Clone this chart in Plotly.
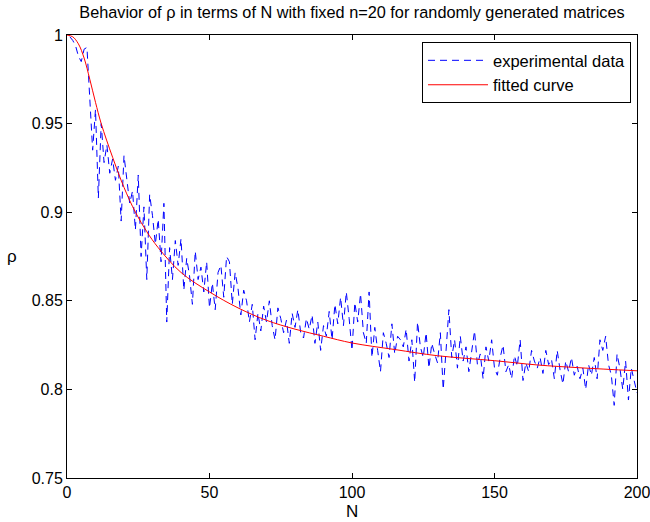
import plotly.graph_objects as go

# ---- data ----
N_exp = list(range(1, 201))
rho_exp = [
    0.999, 0.997, 0.994, 0.988, 0.985, 0.992, 0.993, 0.962, 0.935, 0.958,
    0.908, 0.950, 0.928, 0.938, 0.922, 0.930, 0.918, 0.926, 0.895, 0.932,
    0.920, 0.905, 0.912, 0.890, 0.921, 0.875, 0.903, 0.862, 0.910, 0.898,
    0.882, 0.896, 0.872, 0.905, 0.838, 0.880, 0.862, 0.884, 0.870, 0.885,
    0.856, 0.874, 0.864, 0.848, 0.878, 0.862, 0.869, 0.855, 0.872, 0.846,
    0.860, 0.845, 0.866, 0.870, 0.852, 0.875, 0.872, 0.848, 0.866, 0.857,
    0.842, 0.856, 0.850, 0.838, 0.848, 0.828, 0.843, 0.833, 0.847, 0.838,
    0.850, 0.836, 0.828, 0.846, 0.840, 0.832, 0.839, 0.826, 0.843, 0.835,
    0.845, 0.832, 0.829, 0.840, 0.834, 0.842, 0.826, 0.838, 0.822, 0.836,
    0.830, 0.844, 0.828, 0.848, 0.837, 0.852, 0.836, 0.855, 0.840, 0.822,
    0.849, 0.838, 0.854, 0.832, 0.826, 0.855, 0.818, 0.835, 0.822, 0.810,
    0.832, 0.826, 0.818, 0.837, 0.820, 0.830, 0.828, 0.824, 0.834, 0.816,
    0.828, 0.804, 0.838, 0.824, 0.818, 0.832, 0.812, 0.826, 0.820, 0.815,
    0.832, 0.800, 0.822, 0.845, 0.818, 0.828, 0.812, 0.830, 0.816, 0.824,
    0.810, 0.822, 0.833, 0.814, 0.820, 0.806, 0.824, 0.816, 0.828, 0.812,
    0.808, 0.818, 0.825, 0.810, 0.814, 0.806, 0.819, 0.813, 0.828, 0.805,
    0.815, 0.810, 0.822, 0.816, 0.812, 0.818, 0.809, 0.822, 0.814, 0.817,
    0.806, 0.822, 0.811, 0.803, 0.816, 0.810, 0.818, 0.808, 0.813, 0.806,
    0.812, 0.800, 0.814, 0.808, 0.818, 0.806, 0.828, 0.822, 0.830, 0.814,
    0.808, 0.791, 0.820, 0.812, 0.800, 0.816, 0.794, 0.812, 0.805, 0.798,
]

N_fit = [0, 2, 4, 6, 8, 10, 12, 16, 20, 24, 28, 32, 40, 50, 60, 70, 80, 90,
         100, 115, 130, 150, 165, 180, 200]
rho_fit = [1.000, 0.999, 0.995, 0.987, 0.975, 0.962, 0.950, 0.931, 0.914, 0.900,
           0.889, 0.880, 0.866, 0.855, 0.846, 0.839, 0.834, 0.830,
           0.8262, 0.8225, 0.8190, 0.8162, 0.8138, 0.8122, 0.8105]

x_ticks = [0, 50, 100, 150, 200]
y_ticks = [0.75, 0.8, 0.85, 0.9, 0.95, 1]
y_tick_text = ["0.75", "0.8", "0.85", "0.9", "0.95", "1"]

FONT = "Liberation Sans, Arial, sans-serif"
FS = 16

fig = go.Figure()
fig.add_trace(go.Scatter(
    x=N_exp, y=rho_exp, mode="lines", name="experimental data",
    line=dict(color="#0000ff", width=1, dash="7px,5px"),
))
fig.add_trace(go.Scatter(
    x=N_fit, y=rho_fit, mode="lines", name="fitted curve",
    line=dict(color="#ff0000", width=1, shape="spline", smoothing=1.0),
))

axis_common = dict(
    showline=True, linecolor="black", linewidth=1, mirror="allticks",
    ticks="inside", ticklen=5, tickcolor="black", showgrid=False, zeroline=False,
    automargin=False, ticklabeloverflow="allow",
    tickfont=dict(family=FONT, size=FS, color="black"),
)

fig.update_layout(
    width=650, height=522,
    margin=dict(l=67, r=13, t=35, b=44, autoexpand=False),
    paper_bgcolor="white", plot_bgcolor="white",
    font=dict(family=FONT, size=FS, color="black"),
    title=dict(
        text="Behavior of ρ in terms of N with fixed n=20 for randomly generated matrices",
        xref="paper", x=0.5, xanchor="center", y=0.977, yanchor="middle",
        font=dict(family=FONT, size=16.3, color="black"),
    ),
    xaxis=dict(range=[0, 200], tickvals=x_ticks, **axis_common),
    yaxis=dict(range=[0.75, 1], tickvals=y_ticks, ticktext=y_tick_text, **axis_common),
    legend=dict(
        x=0.9895, y=0.984, xanchor="right", yanchor="top",
        bordercolor="black", borderwidth=1, bgcolor="white",
        font=dict(family=FONT, size=16.5, color="black"),
        tracegroupgap=0, itemwidth=60,
    ),
    showlegend=True,
    annotations=[
        dict(text="N", xref="paper", yref="paper", x=0.5, y=-0.0767,
             xanchor="center", yanchor="middle", showarrow=False,
             font=dict(family=FONT, size=17, color="black")),
        dict(text="ρ", xref="paper", yref="paper", x=-0.0965, y=0.5,
             xanchor="center", yanchor="middle", showarrow=False,
             font=dict(family=FONT, size=17, color="black")),
    ],
)

fig.write_html(
    "out.html",
    config={"displayModeBar": False},
    post_script="document.body.style.margin='0';document.body.style.overflow='hidden';",
)
